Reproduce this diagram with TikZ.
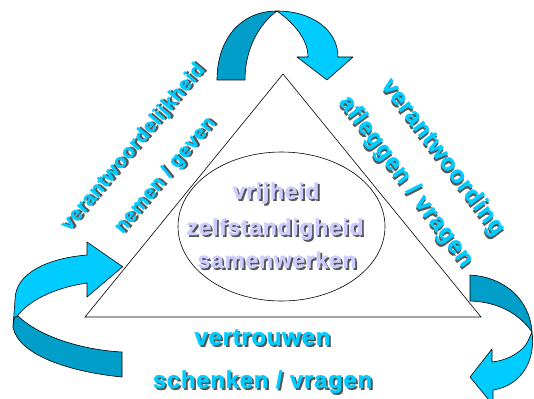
\documentclass[tikz,border=0pt]{standalone}
\usepackage{fontspec}
\setmainfont{Liberation Sans}[BoldFeatures={FakeBold=1.2,LetterSpace=3}]
\definecolor{cyanlight}{HTML}{00CCFF}
\definecolor{cyandark}{HTML}{009EC8}
\definecolor{lavender}{HTML}{CCCCFF}
\definecolor{shadowgray}{HTML}{555555}
\newcommand\shd[2]{\makebox[0pt][l]{\hspace{1.8pt}\raisebox{-1.8pt}{\color{shadowgray}#2}}{\color{#1}#2}}
\tikzset{
  bandlight/.style={fill=cyanlight,draw=black,line width=0.6pt,line join=round},
  banddark/.style={fill=cyandark,draw=black,line width=0.6pt,line join=round},
  sidetext/.style={inner sep=0pt,font=\fontsize{24}{28}\selectfont\bfseries},
  lefttext/.style={inner sep=0pt,font=\fontsize{20}{24}\selectfont\bfseries},
  coretext/.style={inner sep=0pt,anchor=base,font=\fontsize{23}{27}\selectfont\bfseries},
}
\begin{document}
\begin{tikzpicture}[x=1pt,y=-1pt]
\useasboundingbox (0,0) rectangle (534,398);
% triangle and ellipse
\draw[line width=0.6pt] (283,74) -- (481,317) -- (85,317) -- cycle;
\draw[line width=0.6pt] (281.5,226.5) ellipse [x radius=103.5, y radius=74.5];
% top arrow
\draw[banddark] (217,80) .. controls (217,40) and (240,11) .. (277,11)
  .. controls (258,25) and (245,50) .. (245,80) -- cycle;
\draw[bandlight] (277,11) .. controls (312,11) and (338,30) .. (338,57)
  -- (353,57) -- (327,80) -- (297,57) -- (308,57)
  .. controls (308,40) and (295,24) .. (277,11) -- cycle;
% left arrow
\draw[bandlight] (122.7,266.7) -- (87,242) -- (87,255)
  .. controls (50,258) and (15,272) .. (15,300) -- (13,327)
  .. controls (14,312) and (40,290) .. (87,283) -- (87,297) -- cycle;
\draw[banddark] (13,327) .. controls (14,312) and (17,318) .. (18,316)
  .. controls (40,337) and (83,350) .. (122,352) -- (122,377)
  .. controls (70,372) and (18,355) .. (13,327) -- cycle;
% right arrow
\draw[banddark] (470,275) .. controls (505,277) and (530,300) .. (532,332)
  .. controls (520,315) and (500,302) .. (470,301) -- cycle;
\draw[bandlight] (532,332) .. controls (536,362) and (520,386) .. (493,390)
  -- (493,405) -- (470,377) -- (492,349) -- (492,362)
  .. controls (510,360) and (524,350) .. (528,341) -- cycle;
% texts
\node[lefttext,rotate=50] (lt1) at (134,148) {\shd{cyanlight}{verantwoordelijkheid}};
\node[lefttext,rotate=50] (lt2) at (166,176) {\shd{cyanlight}{nemen / geven}};
\node[sidetext,rotate=-53] (rt1) at (442,158) {\shd{cyanlight}{verantwoording}};
\node[sidetext,rotate=-53] (rt2) at (405,182) {\shd{cyanlight}{afleggen / vragen}};
\node[sidetext,anchor=base] (bt1) at (262.5,345) {\shd{cyanlight}{vertrouwen}};
\node[sidetext,anchor=base] (bt2) at (262.5,388) {\shd{cyanlight}{schenken / vragen}};
\node[coretext] (c1) at (276,199) {\shd{lavender}{vrijheid}};
\node[coretext] (c2) at (275,235) {\shd{lavender}{zelfstandigheid}};
\node[coretext] (c3) at (277,268) {\shd{lavender}{samenwerken}};
\end{tikzpicture}
\end{document}
